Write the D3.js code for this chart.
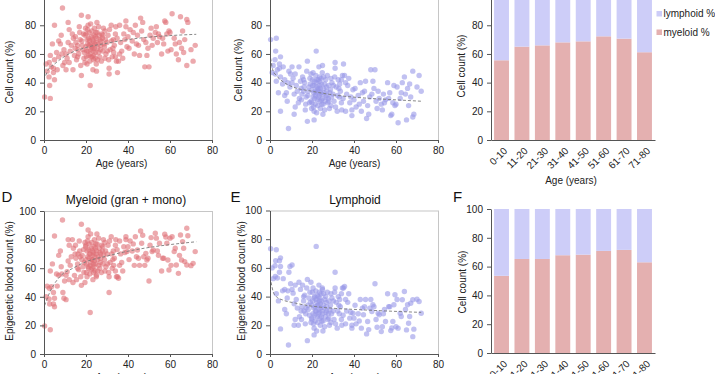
<!DOCTYPE html>
<html>
<head>
<meta charset="utf-8">
<script src="https://cdn.jsdelivr.net/npm/d3@7"></script>
<style>
  body { margin: 0; background: #fff; }
  svg { display: block; font-family: "Liberation Sans", Arial, sans-serif; }
  .axis path, .axis line { stroke: #555; }
  .axis text { fill: #222; font-size: 10px; font-family: "Liberation Sans", Arial, sans-serif; }
</style>
</head>
<body>
<svg id="fig" width="715" height="374"></svg>
<script>
// ages of the samples (shared by all four scatter panels)
const ages = [0.3,3,2.7,2.4,1.5,3.5,4.5,2.5,5,5,4.5,6.3,3,4,5,7,7.8,8.8,9,9.8,8.5,8.2,10.5,6,1,7,9.5,
  12,11.5,13.8,11,12.5,13,14,11.5,14.5,13.5,12,14.8,10.5,
  17.8,17.8,15,16,16.5,17,18,18.5,19,19.5,15.5,16.8,17.5,18.2,19.2,19.8,15.2,16.2,17.2,18.8,19.5,16,
  21,22,23.3,25,23,20,20.5,21,21.5,22,22.5,23,23.5,24,24.5,20.2,20.8,21.3,21.8,22.3,22.8,23.3,23.8,24.3,24.8,20,21,22,23,24,20.5,21.5,22.5,23.5,24.5,20.3,21.7,22.7,23.7,24.7,22.2,23.6,24.2,21.2,20.7,
  25,25.5,26,26.5,27,27.5,28,28.5,29,29.5,25.2,25.8,26.3,26.8,27.3,27.8,28.3,28.8,29.3,25.5,26,27,28,29,25.3,26.7,24.9,
  31,31,30,30.5,31.5,32,32.5,33,33.5,34,34.5,30.2,31.2,32.2,33.2,34.2,30.8,32.8,34.8,35,35.5,34,
  36,36.5,37,38,39,39,39.5,40,41,42,43,44,44.5,37.5,38.5,40.5,42.5,43.5,36,45,
  46,47,46.5,47.5,48,49,49.5,48.5,50,50.5,51,52,53,54,55,45.5,51.5,53.5,54.5,
  56,57,57.5,58,58.5,59,60,61,60.5,62,63,64,64.5,65,65.5,66,66.5,67,68,68,70,71,72,68.5,62.5,56.5,59.5];

// A: measured myeloid %
const myeloidA = [30,29,38,44,48,51,50,54,56,42,47,49,59,67,80,69,67,92,52,54,60,73,49,61,53,58,63,
  77,82,49,57,62,66,71,68,59,74,54,64,60,
  87,45,72,66,60,75,69,63,57,73,56,79,52,66,61,78,68,63,70,74,54,58,
  86,38,49,48,58,65,70,62,75,67,72,64,69,78,61,58,67,71,55,63,76,66,73,57,68,74,80,60,70,64,53,66,58,62,72,62,69,65,59,75,81,56,67,59,77,
  71,64,79,58,69,74,62,67,76,60,82,67,73,63,55,71,78,65,70,56,61,66,73,57,75,70,53,
  46,50,68,73,63,80,58,70,66,74,55,62,77,69,61,79,56,64,71,47,55,58,
  80,68,62,74,83,79,65,72,77,69,60,67,73,57,70,64,75,80,60,66,
  85,82,76,70,51,59,64,68,51,73,78,71,75,68,72,59,66,79,74,
  60,67,83,82,74,62,75,88,63,71,60,56,68,86,64,76,61,70,84,52,63,55,66,82,67,71,76];

// B: measured lymphoid %
const lymphoidB = [70,71,62,56,52,49,50,46,44,58,53,51,41,33,20,31,33,8,48,46,40,27,51,39,47,42,37,
  23,18,51,43,38,34,29,32,41,26,46,36,40,
  13,55,28,34,40,25,31,37,43,27,44,21,48,34,39,22,32,37,30,26,46,42,
  14,62,51,52,42,35,30,38,25,33,28,36,31,22,39,42,33,29,45,37,24,34,27,43,32,26,20,40,30,36,47,34,42,38,28,38,31,35,41,25,19,44,33,41,23,
  29,36,21,42,31,26,38,33,24,40,18,33,27,37,45,29,22,35,30,44,39,34,27,43,25,30,47,
  54,50,32,27,37,20,42,30,34,26,45,38,23,31,39,21,44,36,29,53,45,42,
  20,32,38,26,17,21,35,28,23,31,40,33,27,43,30,36,25,20,40,34,
  15,18,24,30,49,41,36,32,49,27,22,29,25,32,28,41,34,21,26,
  40,33,17,18,26,38,25,12,37,29,40,44,32,14,36,24,39,30,16,48,37,45,34,18,33,29,24];

// D: epigenetic myeloid (gran + mono) %
const myeloidD = [19.6,17,35,38.5,47.5,47,43,46,39,33,35,47.5,58,63,82.5,69,72,93.7,43,51,56,61,38,56,40,55,39,
  76,80,50,57.6,62,68,74,65,55,80,52,70,55,
  90.7,48,76,63,59,72,66,61,57,78,52,79,54,69,64,75,67,70,68,73,50,60,
  86.7,29,52,55,60,66,72,61,77,70,74,66,71,80,63,57,68,73,56,64,78,69,75,58,70,76,82,62,72,65,54,67,59,63,74,63,70,66,61,77,84,57,68,60,79,
  72,66,81,60,70,76,63,69,78,61,84,68,74,64,57,72,80,66,72,58,62,67,75,58,77,71,54,
  43,54,70,76,64,82,60,72,67,76,54,63,79,70,62,80,57,66,73,54,53,58,
  79,70,64,75,82,80,71.6,75,79,72,62,68,72.7,58,71,66,77,82,62,67,
  86,83,77.4,68,62,65.7,67,70.4,51,76,81.4,72.7,84.4,72,77.4,62,71.6,81,69,
  58,67,83.7,81.8,77.4,65.7,81,82,62,71.6,62.2,56.4,69,83.2,65.7,78.6,73.9,64.6,87.9,62.2,61.8,63.4,71.6,82.7,73.9,67,58.7];

// E: epigenetic lymphoid %
const lymphoidE = [73.4,72.7,65,61.5,52.5,53,57,54,61,67,65,52.5,42,37,17.5,31,28,6.3,57,49,44,39,62,44,60,45,61,
  24,20,50,42.4,38,32,26,35,45,20,48,30,45,
  9.3,52,24,37,41,28,34,39,43,22,48,21,46,31,36,25,33,30,32,27,50,40,
  13.3,75,48,45,40,34,28,39,23,30,26,34,29,20,37,43,32,27,44,36,22,31,25,42,30,24,18,38,28,35,46,33,41,37,26,37,30,34,39,23,16,43,32,40,21,
  28,34,19,40,30,24,37,31,22,39,16,32,26,36,43,28,20,34,28,42,38,33,25,42,23,29,46,
  57,46,30,24,36,18,40,28,33,24,46,37,21,30,38,20,43,34,27,46,47,42,
  21,30,36,25,18,20,28.4,25,21,28,38,32,27.3,42,29,34,23,18,38,33,
  14,17,22.6,32,38,34.3,33,29.6,49,24,18.6,27.3,15.6,28,22.6,38,28.4,19,31,
  42,33,16.3,18.2,22.6,34.3,19,18,38,28.4,37.8,43.6,31,16.8,34.3,21.4,26.1,35.4,12.1,37.8,38.2,36.6,28.4,17.3,26.1,33,41.3];

// dashed fit lines as [age, value]
const trendA = [[0.8,45],[2,49],[5,53],[10,58.5],[20,64.5],[30,67.5],[45,71],[60,72.8],[72.5,73.7]];
const trendB = [[0.3,57],[1.3,49],[3,45],[5,42],[10,37.5],[20,34],[30,31.5],[45,29.3],[60,28],[72.5,27]];
const trendD = [[0.3,34],[2.7,43],[7.5,54],[13.8,60],[20,64.5],[30,68.5],[39,71.6],[50,74.5],[60,76.5],[72.5,78.5]];
const trendE = [[0.5,50],[1.6,43],[3,40],[6.3,37.5],[12,35.5],[17,34],[25,32.5],[41,31],[55,30],[72,29]];

// stacked bars by age group
const ageGroups = ["0-10","11-20","21-30","31-40","41-50","51-60","61-70","71-80"];
const barMyeloidC = [55.6,65.1,66,68.1,68.8,72.3,70.7,61.2];
const barLymphoidC = [44.4,34.9,34,31.9,31.2,27.7,29.3,38.8];
const barMyeloidF = [53.6,65.3,65.3,67.9,68.3,70.9,71.6,63];
const barLymphoidF = [46.4,34.7,34.7,32.1,31.7,29.1,28.4,37];

// the 100 tick of the top row sits above the picture edge
const yTicksTop = [0, 20, 40, 60, 80];
const yTicks = [0, 20, 40, 60, 80, 100];
const xTicks = [0, 20, 40, 60, 80];

const redDot = "rgb(224,112,118)";
const blueDot = "rgb(152,152,232)";
const myeloidBar = "#e4b0b0";
const lymphoidBar = "#cdcdf8";

let svg = d3.select("#fig");

function yLabel(text, x, y) {
    svg.append("text")
        .attr("transform", `translate(${x},${y})rotate(-90)`)
        .attr("text-anchor", "middle")
        .attr("dy", "0.35em")
        .style("font-size", "10px")
        .style("fill", "#222")
        .text(text);
}

function xLabel(text, x, y) {
    svg.append("text")
        .attr("x", x)
        .attr("y", y)
        .attr("text-anchor", "middle")
        .style("font-size", "10px")
        .style("fill", "#222")
        .text(text);
}

function scatter(p) {
    let x = d3.scaleLinear().domain([0, 80]).range([p.left, p.left + 168]);
    let y = d3.scaleLinear().domain([0, 100]).range([p.bottom, p.top]);
    let g = svg.append("g");

    // light frame on top / right
    g.append("rect")
        .attr("x", x(0) + 0.5)
        .attr("y", y(100) + 0.5)
        .attr("width", x(80) - x(0))
        .attr("height", y(0) - y(100))
        .attr("fill", "none")
        .attr("stroke", "#c6c6c6");

    g.selectAll("circle")
        .data(p.values)
        .join("circle")
        .attr("cx", (d, i) => x(ages[i]))
        .attr("cy", d => y(d))
        .attr("r", 2.7)
        .attr("fill", p.color)
        .attr("fill-opacity", 0.6);

    let line = d3.line()
        .x(d => x(d[0]))
        .y(d => y(d[1]))
        .curve(d3.curveMonotoneX);

    g.append("path")
        .datum(p.trend)
        .attr("d", line)
        .attr("fill", "none")
        .attr("stroke", "#7a7a7a")
        .attr("stroke-width", 0.9)
        .attr("stroke-dasharray", "3,2");

    g.append("g")
        .attr("class", "axis")
        .attr("transform", `translate(0,${p.bottom})`)
        .call(d3.axisBottom(x).tickValues(xTicks).tickSize(3).tickSizeOuter(0).tickPadding(4));

    g.append("g")
        .attr("class", "axis")
        .attr("transform", `translate(${p.left},0)`)
        .call(d3.axisLeft(y).tickValues(p.yTicks).tickSize(4).tickSizeOuter(0).tickPadding(4));

    yLabel(p.ylabel, p.ylabelX, p.ylabelY);
    xLabel("Age (years)", p.xlabelX, p.bottom + 27);
}

function stacked(p) {
    let x = d3.scaleBand().domain(ageGroups).range([p.left, p.left + 164]).paddingInner(0.27).paddingOuter(0.15);
    let y = d3.scaleLinear().domain([0, 100]).range([p.bottom, p.top]);
    let g = svg.append("g");

    g.selectAll("rect.my")
        .data(p.myeloid)
        .join("rect")
        .attr("class", "my")
        .attr("x", (d, i) => x(ageGroups[i]))
        .attr("y", d => y(d))
        .attr("width", x.bandwidth())
        .attr("height", d => y(0) - y(d))
        .attr("fill", myeloidBar);

    g.selectAll("rect.ly")
        .data(p.lymphoid)
        .join("rect")
        .attr("class", "ly")
        .attr("x", (d, i) => x(ageGroups[i]))
        .attr("y", (d, i) => y(p.myeloid[i] + d))
        .attr("width", x.bandwidth())
        .attr("height", (d, i) => y(p.myeloid[i]) - y(p.myeloid[i] + d))
        .attr("fill", lymphoidBar);

    // category labels: text ends just under the bar centre, rotated 45 degrees
    g.append("g")
        .attr("class", "axis")
        .attr("transform", `translate(0,${p.bottom})`)
        .call(d3.axisBottom(x).tickSize(0).tickPadding(0))
        .selectAll("text")
        .attr("x", 0)
        .attr("y", 0)
        .attr("dy", "0.35em")
        .attr("text-anchor", "end")
        .attr("transform", "translate(4,9)rotate(-45)");

    g.append("g")
        .attr("class", "axis")
        .attr("transform", `translate(${p.left},0)`)
        .call(d3.axisLeft(y).tickValues(p.yTicks).tickSize(4).tickSizeOuter(0).tickPadding(4));

    yLabel("Cell count (%)", p.ylabelX, p.ylabelY);
    xLabel("Age (years)", p.left + 80, p.bottom + 44);
}

function panelLetter(t, x, y) {
    svg.append("text").attr("x", x).attr("y", y).style("font-size", "15px").style("fill", "#111").text(t);
}

function title(t, x, y) {
    svg.append("text").attr("x", x).attr("y", y).attr("text-anchor", "middle")
        .style("font-size", "12px").style("fill", "#111").text(t);
}

// top row (cut off at the top edge)
scatter({ left: 44, top: -3.4, bottom: 140, values: myeloidA, color: redDot, trend: trendA, yTicks: yTicksTop,
    ylabel: "Cell count (%)", ylabelX: 9.5, ylabelY: 72, xlabelX: 121.5 });
scatter({ left: 270, top: -3.4, bottom: 140, values: lymphoidB, color: blueDot, trend: trendB, yTicks: yTicksTop,
    ylabel: "Cell count (%)", ylabelX: 238, ylabelY: 70, xlabelX: 354.5 });
stacked({ left: 491, top: -3.4, bottom: 140, myeloid: barMyeloidC, lymphoid: barLymphoidC, yTicks: yTicksTop,
    ylabelX: 461.5, ylabelY: 66 });

// legend
let legend = svg.append("g");
let legendItems = [["lymphoid %", lymphoidBar], ["myeloid %", myeloidBar]];
legendItems.forEach((it, i) => {
    legend.append("rect").attr("x", 656.5).attr("y", 11 + i * 18.5).attr("width", 5.5).attr("height", 5.5).attr("fill", it[1]);
    legend.append("text").attr("x", 663.5).attr("y", 17 + i * 18.5).style("font-size", "10px").style("fill", "#222").text(it[0]);
});

// bottom row
panelLetter("D", 1.5, 201.5);
panelLetter("E", 230.5, 201.5);
panelLetter("F", 453, 201.5);
title("Myeloid (gran + mono)", 126, 203.5);
title("Lymphoid", 355, 203.5);

scatter({ left: 44, top: 211, bottom: 354, values: myeloidD, color: redDot, trend: trendD, yTicks: yTicks,
    ylabel: "Epigenetic blood count (%)", ylabelX: 9.5, ylabelY: 281, xlabelX: 121.5 });
scatter({ left: 270, top: 210.5, bottom: 354, values: lymphoidE, color: blueDot, trend: trendE, yTicks: yTicks,
    ylabel: "Epigenetic blood count (%)", ylabelX: 241, ylabelY: 281, xlabelX: 354.5 });
stacked({ left: 491, top: 209, bottom: 353, myeloid: barMyeloidF, lymphoid: barLymphoidF, yTicks: yTicks,
    ylabelX: 462, ylabelY: 282 });
</script>
</body>
</html>
